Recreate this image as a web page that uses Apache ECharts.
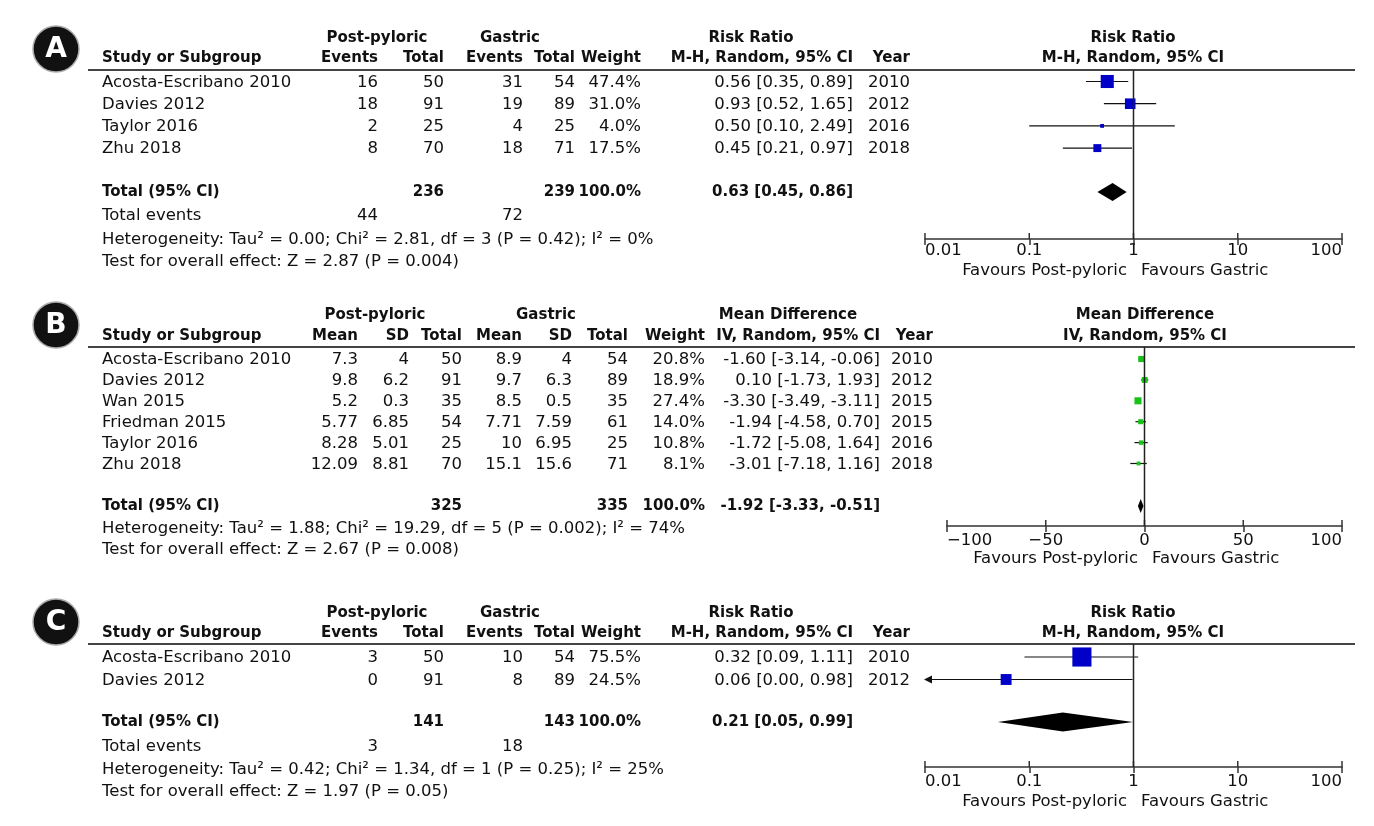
<!DOCTYPE html>
<html>
<head>
<meta charset="utf-8">
<script src="https://cdn.jsdelivr.net/npm/echarts@6/dist/echarts.min.js"></script>
<style>
html, body { margin: 0; padding: 0; background: #fff; }
#main { width: 1374px; height: 826px; }
</style>
</head>
<body>
<div id="main"></div>
<script>
// ---- panel A (risk ratio) ----
var studiesA = ['Acosta-Escribano 2010', 'Davies 2012', 'Taylor 2016', 'Zhu 2018'];
var ppEventsA = [16, 18, 2, 8];
var ppTotalA = [50, 91, 25, 70];
var gEventsA = [31, 19, 4, 18];
var gTotalA = [54, 89, 25, 71];
var weightA = [47.4, 31.0, 4.0, 17.5];
var rrA = [0.56, 0.93, 0.50, 0.45];
var lowA = [0.35, 0.52, 0.10, 0.21];
var highA = [0.89, 1.65, 2.49, 0.97];
var yearA = [2010, 2012, 2016, 2018];
var totalA = [0.63, 0.45, 0.86];          // estimate, low, high
var sumsA = [236, 239, 44, 72];           // pp total, gastric total, pp events, gastric events
var hetA = 'Heterogeneity: Tau² = 0.00; Chi² = 2.81, df = 3 (P = 0.42); I² = 0%';
var testA = 'Test for overall effect: Z = 2.87 (P = 0.004)';

// ---- panel B (mean difference) ----
var studiesB = ['Acosta-Escribano 2010', 'Davies 2012', 'Wan 2015', 'Friedman 2015', 'Taylor 2016', 'Zhu 2018'];
var ppMeanB = [7.3, 9.8, 5.2, 5.77, 8.28, 12.09];
var ppSdB = [4, 6.2, 0.3, 6.85, 5.01, 8.81];
var ppTotalB = [50, 91, 35, 54, 25, 70];
var gMeanB = [8.9, 9.7, 8.5, 7.71, 10, 15.1];
var gSdB = [4, 6.3, 0.5, 7.59, 6.95, 15.6];
var gTotalB = [54, 89, 35, 61, 25, 71];
var weightB = [20.8, 18.9, 27.4, 14.0, 10.8, 8.1];
var mdB = [-1.60, 0.10, -3.30, -1.94, -1.72, -3.01];
var lowB = [-3.14, -1.73, -3.49, -4.58, -5.08, -7.18];
var highB = [-0.06, 1.93, -3.11, 0.70, 1.64, 1.16];
var yearB = [2010, 2012, 2015, 2015, 2016, 2018];
var totalB = [-1.92, -3.33, -0.51];
var sumsB = [325, 335];
var hetB = 'Heterogeneity: Tau² = 1.88; Chi² = 19.29, df = 5 (P = 0.002); I² = 74%';
var testB = 'Test for overall effect: Z = 2.67 (P = 0.008)';

// ---- panel C (risk ratio) ----
var studiesC = ['Acosta-Escribano 2010', 'Davies 2012'];
var ppEventsC = [3, 0];
var ppTotalC = [50, 91];
var gEventsC = [10, 8];
var gTotalC = [54, 89];
var weightC = [75.5, 24.5];
var rrC = [0.32, 0.06];
var lowC = [0.09, 0.00];
var highC = [1.11, 0.98];
var yearC = [2010, 2012];
var totalC = [0.21, 0.05, 0.99];
var sumsC = [141, 143, 3, 18];
var hetC = 'Heterogeneity: Tau² = 0.42; Chi² = 1.34, df = 1 (P = 0.25); I² = 25%';
var testC = 'Test for overall effect: Z = 1.97 (P = 0.05)';

var logTicks = [0.01, 0.1, 1, 10, 100];
var mdTicks = [-100, -50, 0, 50, 100];

// layout of the three blocks (pixels)
var FONT = 'DejaVu Sans';
var FS = 16.5;      // regular text
var FSB = 15;       // bold text
var plotRight = 1342;
var layA = { top: 70, axisY: 239, left: 925, first: 81.5, step: 22.2, totalY: 192, size: 19, dia: 18, lblMargin: 3, favY: 271 };
var layB = { top: 347, axisY: 526, left: 947, first: 359, step: 20.9, totalY: 506, size: 13.5, dia: 14, lblMargin: 6, favY: 559 };
var layC = { top: 644, axisY: 767, left: 925, first: 657, step: 22.5, totalY: 722, size: 22, dia: 19, lblMargin: 6, favY: 802 };

var chart = echarts.init(document.getElementById('main'));
var graphics = [];

function txt(x, y, s, align, bold) {
    graphics.push({
        type: 'text', x: x, y: y, silent: true,
        style: {
            text: String(s), fill: '#111', align: align || 'left', verticalAlign: 'middle',
            font: (bold ? 'bold ' + FSB : FS) + 'px "' + FONT + '"'
        }
    });
}
function hline(x1, x2, y, w, c) {
    graphics.push({ type: 'line', silent: true, shape: { x1: x1, y1: y, x2: x2, y2: y }, style: { stroke: c, lineWidth: w } });
}
function badge(cy, letter) {
    graphics.push({ type: 'circle', silent: true, shape: { cx: 56, cy: cy, r: 23 }, style: { fill: '#111', stroke: '#aaa', lineWidth: 1.5 } });
    graphics.push({
        type: 'text', x: 56, y: cy + 1, silent: true,
        style: { text: letter, fill: '#fff', align: 'center', verticalAlign: 'middle', font: 'bold 28px "' + FONT + '"' }
    });
}
function f2(v) { return v.toFixed(2); }
function ciText(t) { return f2(t[0]) + ' [' + f2(t[1]) + ', ' + f2(t[2]) + ']'; }
function rowY(lay, i) { return lay.first + i * lay.step; }

// ---- tables, panel A & C share columns ----
function rrTable(lay, hdrY, letterY, letter, st, ppE, ppT, gE, gT, w, est, lo, hi, yr, tot, sums, het, test, evY, hetY, testY) {
    var col = { ppE: 378, ppT: 444, gE: 523, gT: 575, w: 641, ci: 853, yr: 910 };
    badge(letterY, letter);
    txt(377, hdrY - 20, 'Post-pyloric', 'center', true);
    txt(510, hdrY - 20, 'Gastric', 'center', true);
    txt(751, hdrY - 20, 'Risk Ratio', 'center', true);
    txt(1133, hdrY - 20, 'Risk Ratio', 'center', true);
    txt(102, hdrY, 'Study or Subgroup', 'left', true);
    txt(col.ppE, hdrY, 'Events', 'right', true);
    txt(col.ppT, hdrY, 'Total', 'right', true);
    txt(col.gE, hdrY, 'Events', 'right', true);
    txt(col.gT, hdrY, 'Total', 'right', true);
    txt(col.w, hdrY, 'Weight', 'right', true);
    txt(col.ci, hdrY, 'M-H, Random, 95% CI', 'right', true);
    txt(col.yr, hdrY, 'Year', 'right', true);
    txt(1133, hdrY, 'M-H, Random, 95% CI', 'center', true);
    hline(88, 1355, lay.top, 2, '#444');
    st.forEach(function (s, i) {
        var y = rowY(lay, i) + 1;
        txt(102, y, s);
        txt(col.ppE, y, ppE[i], 'right');
        txt(col.ppT, y, ppT[i], 'right');
        txt(col.gE, y, gE[i], 'right');
        txt(col.gT, y, gT[i], 'right');
        txt(col.w, y, w[i].toFixed(1) + '%', 'right');
        txt(col.ci, y, ciText([est[i], lo[i], hi[i]]), 'right');
        txt(col.yr, y, yr[i], 'right');
    });
    var ty = lay.totalY;
    txt(102, ty, 'Total (95% CI)', 'left', true);
    txt(col.ppT, ty, sums[0], 'right', true);
    txt(col.gT, ty, sums[1], 'right', true);
    txt(col.w, ty, '100.0%', 'right', true);
    txt(col.ci, ty, ciText(tot), 'right', true);
    txt(102, evY, 'Total events');
    txt(col.ppE, evY, sums[2], 'right');
    txt(col.gE, evY, sums[3], 'right');
    txt(102, hetY, het);
    txt(102, testY, test);
    txt(1127, lay.favY, 'Favours Post-pyloric', 'right');
    txt(1141, lay.favY, 'Favours Gastric', 'left');
}

rrTable(layA, 58, 49, 'A', studiesA, ppEventsA, ppTotalA, gEventsA, gTotalA, weightA, rrA, lowA, highA, yearA,
    totalA, sumsA, hetA, testA, 216, 240, 262);
rrTable(layC, 633, 622, 'C', studiesC, ppEventsC, ppTotalC, gEventsC, gTotalC, weightC, rrC, lowC, highC, yearC,
    totalC, sumsC, hetC, testC, 747, 770, 792);

// ---- table B ----
(function () {
    var col = { pm: 358, ps: 409, pt: 462, gm: 522, gs: 572, gt: 628, w: 705, ci: 880, yr: 933 };
    var hdrY = 336;
    badge(325, 'B');
    txt(375, hdrY - 21, 'Post-pyloric', 'center', true);
    txt(546, hdrY - 21, 'Gastric', 'center', true);
    txt(788, hdrY - 21, 'Mean Difference', 'center', true);
    txt(1145, hdrY - 21, 'Mean Difference', 'center', true);
    txt(102, hdrY, 'Study or Subgroup', 'left', true);
    txt(col.pm, hdrY, 'Mean', 'right', true);
    txt(col.ps, hdrY, 'SD', 'right', true);
    txt(col.pt, hdrY, 'Total', 'right', true);
    txt(col.gm, hdrY, 'Mean', 'right', true);
    txt(col.gs, hdrY, 'SD', 'right', true);
    txt(col.gt, hdrY, 'Total', 'right', true);
    txt(col.w, hdrY, 'Weight', 'right', true);
    txt(col.ci, hdrY, 'IV, Random, 95% CI', 'right', true);
    txt(col.yr, hdrY, 'Year', 'right', true);
    txt(1145, hdrY, 'IV, Random, 95% CI', 'center', true);
    hline(88, 1355, layB.top, 2, '#444');
    studiesB.forEach(function (s, i) {
        var y = rowY(layB, i) + 1;
        txt(102, y, s);
        txt(col.pm, y, ppMeanB[i], 'right');
        txt(col.ps, y, ppSdB[i], 'right');
        txt(col.pt, y, ppTotalB[i], 'right');
        txt(col.gm, y, gMeanB[i], 'right');
        txt(col.gs, y, gSdB[i], 'right');
        txt(col.gt, y, gTotalB[i], 'right');
        txt(col.w, y, weightB[i].toFixed(1) + '%', 'right');
        txt(col.ci, y, ciText([mdB[i], lowB[i], highB[i]]), 'right');
        txt(col.yr, y, yearB[i], 'right');
    });
    var ty = layB.totalY;
    txt(102, ty, 'Total (95% CI)', 'left', true);
    txt(col.pt, ty, sumsB[0], 'right', true);
    txt(col.gt, ty, sumsB[1], 'right', true);
    txt(col.w, ty, '100.0%', 'right', true);
    txt(col.ci, ty, ciText(totalB), 'right', true);
    txt(102, 529, hetB);
    txt(102, 550, testB);
    txt(1138, layB.favY, 'Favours Post-pyloric', 'right');
    txt(1152, layB.favY, 'Favours Gastric', 'left');
})();

// ---- plots ----
function studyRender(color, lay, xmin, xmax) {
    return function (params, api) {
        var est = api.value(0), y = api.value(1), lo = api.value(2), hi = api.value(3), w = api.value(4);
        var pE = api.coord([est, y]);
        var pL = api.coord([Math.max(lo, xmin), y]);
        var pH = api.coord([Math.min(hi, xmax), y]);
        var s = lay.size * Math.sqrt(w / 100);
        var kids = [
            { type: 'line', shape: { x1: pL[0], y1: pL[1], x2: pH[0], y2: pH[1] }, style: { stroke: '#111', lineWidth: 1.2 } },
            { type: 'rect', shape: { x: pE[0] - s / 2, y: pE[1] - s / 2, width: s, height: s }, style: { fill: color } }
        ];
        if (lo < xmin) {
            kids.push({ type: 'polygon', shape: { points: [[pL[0] - 1, pL[1]], [pL[0] + 7, pL[1] - 4], [pL[0] + 7, pL[1] + 4]] }, style: { fill: '#111' } });
        }
        return { type: 'group', children: kids };
    };
}
function diamondRender(lay) {
    return function (params, api) {
        var y = api.value(1);
        var pE = api.coord([api.value(0), y]);
        var pL = api.coord([api.value(2), y]);
        var pH = api.coord([api.value(3), y]);
        var h = lay.dia / 2;
        return {
            type: 'polygon',
            shape: { points: [[pL[0], pE[1]], [pE[0], pE[1] - h], [pH[0], pE[1]], [pE[0], pE[1] + h]] },
            style: { fill: '#000' }
        };
    };
}
// upward half of each axis tick (the axis itself draws the downward half)
function tickUpRender(params, api) {
    var p = api.coord([api.value(0), api.value(1)]);
    return { type: 'line', shape: { x1: p[0], y1: p[1], x2: p[0], y2: p[1] - 6 }, style: { stroke: '#333', lineWidth: 1.5 } };
}

var grids = [], xAxes = [], yAxes = [], series = [];
function panel(idx, lay, isLog, est, lo, hi, w, tot, color, ticks) {
    var xmin = ticks[0], xmax = ticks[ticks.length - 1];
    var h = lay.axisY - lay.top;
    grids.push({ left: lay.left, right: 1374 - plotRight, top: lay.top, height: h });
    var ax = {
        gridIndex: idx, position: 'bottom', min: xmin, max: xmax,
        splitLine: { show: false },
        axisLine: { show: true, onZero: false, lineStyle: { color: '#333', width: 1.5 } },
        axisTick: { show: true, inside: false, length: 6, lineStyle: { color: '#333', width: 1.5 } },
        axisLabel: {
            show: true, margin: lay.lblMargin, color: '#111', fontFamily: FONT, fontSize: FS,
            alignMinLabel: 'left', alignMaxLabel: 'right',
            formatter: function (v) { return String(+Number(v).toPrecision(3)).replace('-', '−'); }
        }
    };
    if (isLog) { ax.type = 'log'; ax.logBase = 10; } else { ax.type = 'value'; ax.interval = 50; }
    xAxes.push(ax);
    yAxes.push({ gridIndex: idx, type: 'value', min: 0, max: h, inverse: true, show: false });
    var refX = isLog ? 1 : 0;
    series.push({
        type: 'line', xAxisIndex: idx, yAxisIndex: idx, data: [[refX, 0], [refX, h]],
        symbol: 'none', silent: true, lineStyle: { color: '#222', width: 1.5 }, animation: false
    });
    series.push({
        type: 'custom', xAxisIndex: idx, yAxisIndex: idx, silent: true, animation: false,
        renderItem: tickUpRender, encode: { x: 0, y: 1 },
        data: ticks.map(function (t) { return [t, h]; })
    });
    series.push({
        type: 'custom', xAxisIndex: idx, yAxisIndex: idx, silent: true, animation: false,
        renderItem: studyRender(color, lay, xmin, xmax),
        encode: { x: 0, y: 1 },
        data: est.map(function (e, i) { return [e, rowY(lay, i) - lay.top, lo[i], hi[i], w[i]]; })
    });
    series.push({
        type: 'custom', xAxisIndex: idx, yAxisIndex: idx, silent: true, animation: false,
        renderItem: diamondRender(lay),
        encode: { x: 0, y: 1 },
        data: [[tot[0], lay.totalY - lay.top, tot[1], tot[2]]]
    });
}
panel(0, layA, true, rrA, lowA, highA, weightA, totalA, '#0000c8', logTicks);
panel(1, layB, false, mdB, lowB, highB, weightB, totalB, '#19c219', mdTicks);
panel(2, layC, true, rrC, lowC, highC, weightC, totalC, '#0000c8', logTicks);

chart.setOption({
    animation: false,
    backgroundColor: '#fff',
    grid: grids,
    xAxis: xAxes,
    yAxis: yAxes,
    series: series,
    graphic: graphics
});
</script>
</body>
</html>
